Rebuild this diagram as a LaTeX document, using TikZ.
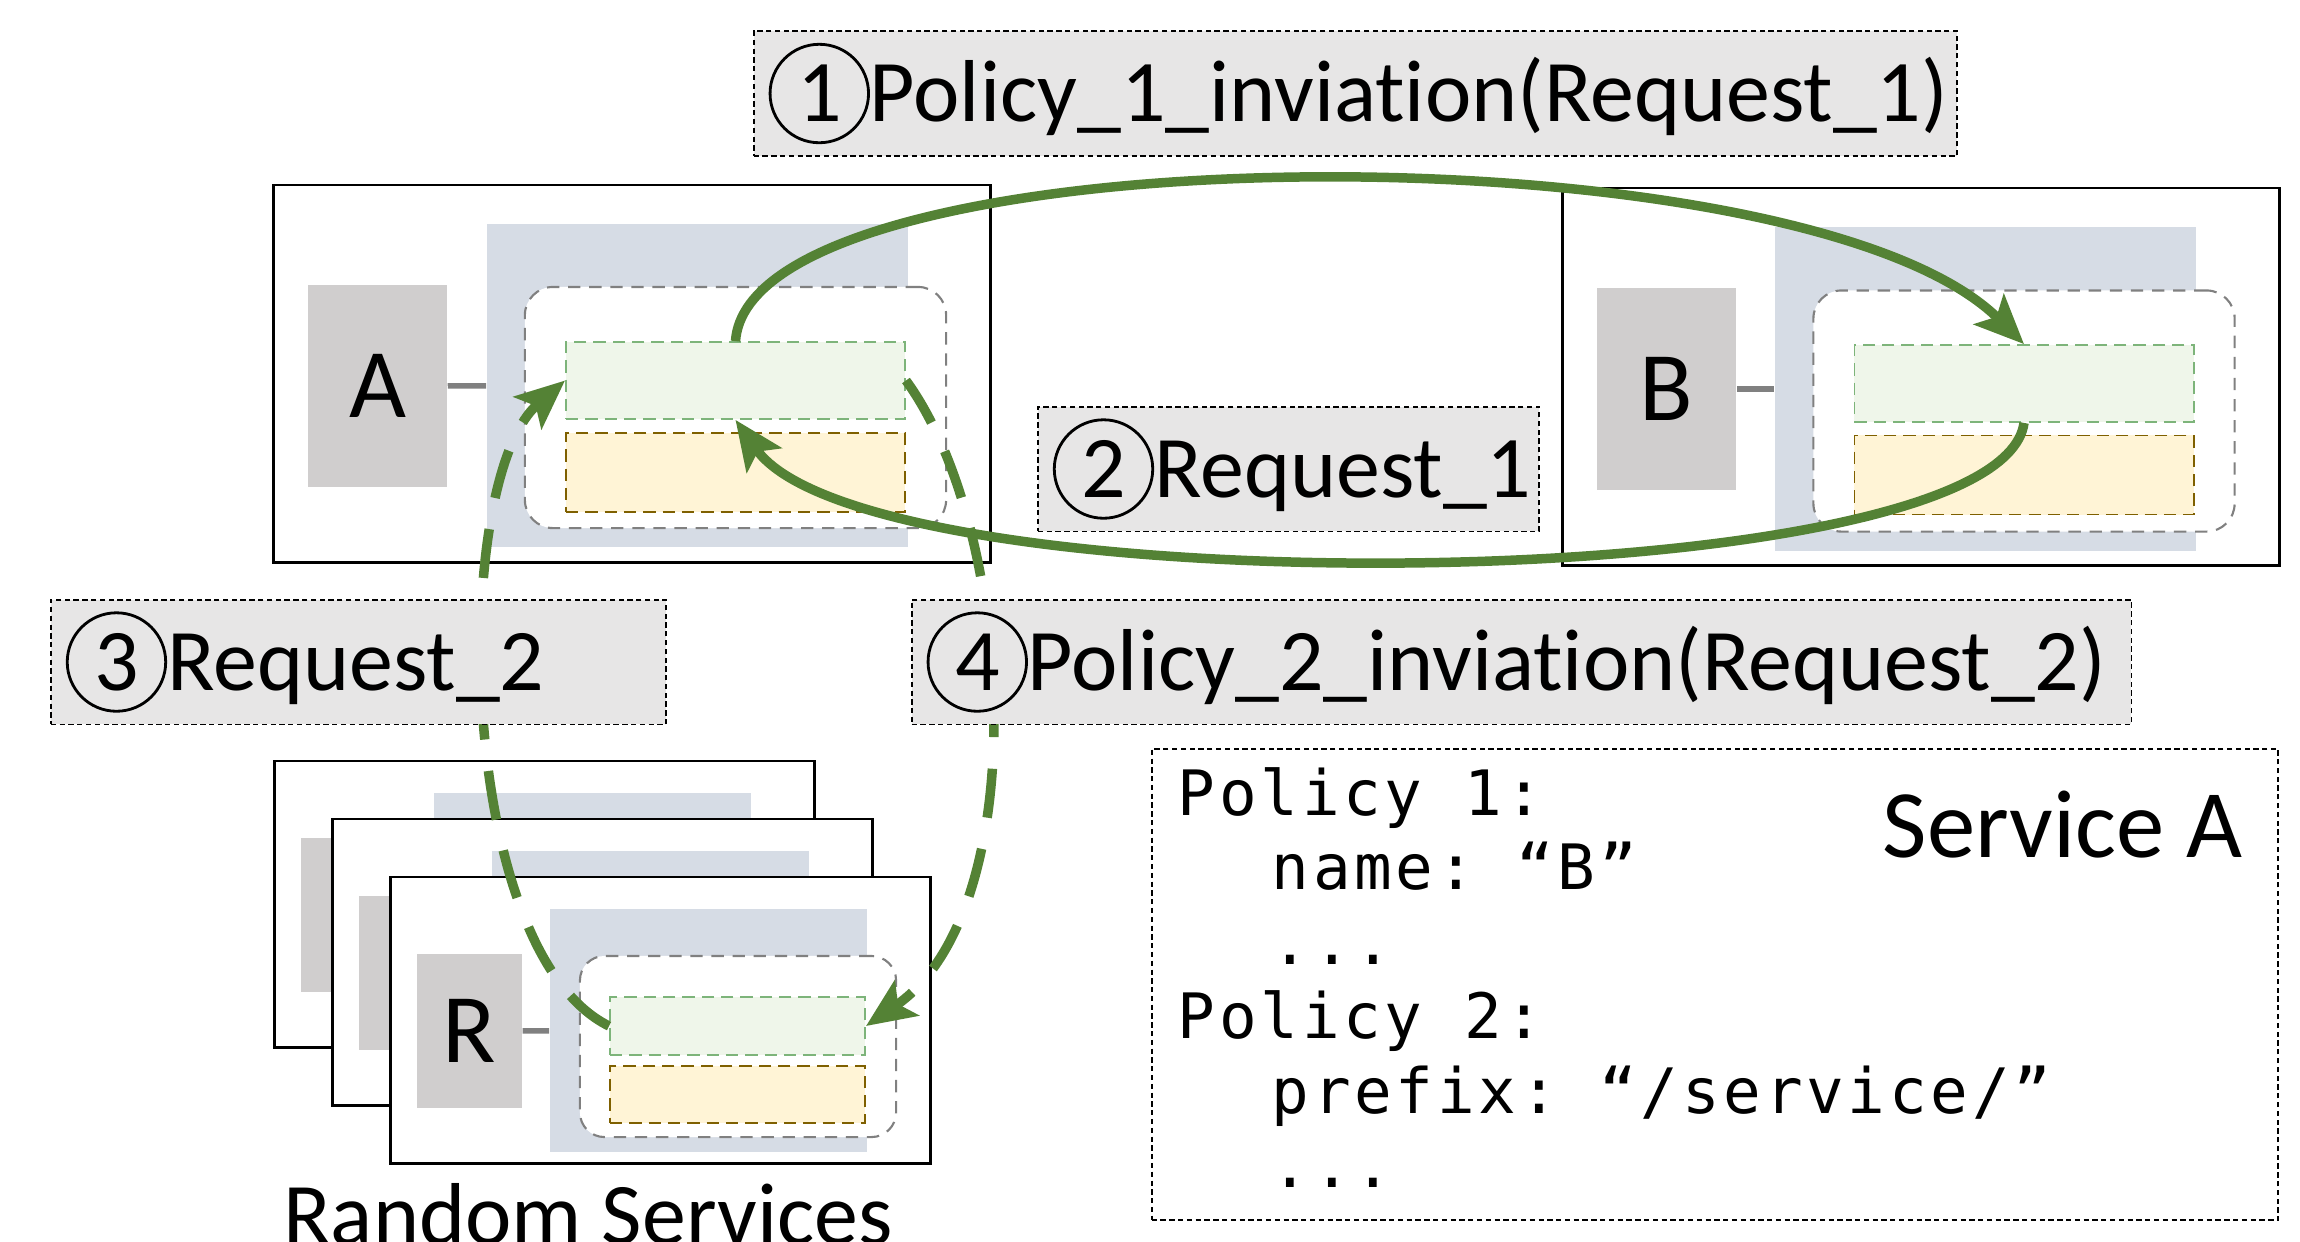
\documentclass[tikz,border=0pt]{standalone}
\usepackage{fontspec}
\setmainfont{Carlito}[Ligatures=NoCommon]
\setmonofont{DejaVu Sans Mono}[LetterSpace=6]
\usepackage{xcolor}
\usepackage{tikz}
\usetikzlibrary{arrows.meta}
\definecolor{flowgreen}{HTML}{548235}
\definecolor{panelblue}{HTML}{D6DCE5}
\definecolor{podgray}{HTML}{D0CECE}
\definecolor{tagfill}{HTML}{E7E6E6}
\definecolor{rulefill}{HTML}{EFF6EA}
\definecolor{ruleline}{HTML}{7DB47A}
\definecolor{storefill}{HTML}{FFF4D6}
\definecolor{storeline}{HTML}{7F6000}
\newcommand{\stepmark}[1]{\tikz[baseline=(m.base)]\node[circle,draw,solid,line width=0.8pt,inner sep=0pt,minimum size=28pt,text width={},align=center] (m) {#1};}
\newcommand{\msp}{\hspace{0.662em}}

\begin{document}
\begin{tikzpicture}[x=0.01cm,y=-0.01cm,
  svcbox/.style={draw,line width=0.8pt,fill=white,minimum width=71.6mm,minimum height=37.7mm},
  podbox/.style={fill=podgray,inner sep=0pt,minimum width=13.9mm,minimum height=20.2mm,font=\fontsize{28}{28}\selectfont},
  panel/.style={fill=panelblue,minimum width=42.1mm,minimum height=32.3mm},
  proxy/.style={draw=gray,fill=white,line width=0.6pt,dash pattern=on 3.5pt off 2.5pt,rounded corners=8pt,minimum width=42.1mm,minimum height=24.1mm},
  rulebox/.style={draw=ruleline,fill=rulefill,line width=0.5pt,dash pattern=on 3.5pt off 2pt,minimum width=33.9mm,minimum height=7.7mm},
  storebox/.style={draw=storeline,fill=storefill,line width=0.5pt,dash pattern=on 3.5pt off 2pt,minimum width=33.9mm,minimum height=7.9mm},
  link/.style={draw=gray,line width=1.6pt},
  flow/.style={draw=flowgreen,line width=2.7pt,-{Stealth[length=14pt,width=12pt,inset=3pt]}},
  flowdash/.style={flow,dash pattern=on 14pt off 9pt},
  tag/.style={draw,fill=tagfill,line width=0.5pt,dash pattern=on 1.5pt off 1pt,minimum height=12.2mm,inner xsep=1.5mm,align=left,font=\fontsize{25}{30}\selectfont},
  policybox/.style={draw,line width=0.5pt,dash pattern=on 1.5pt off 1pt,minimum width=112.6mm,minimum height=47.1mm}]
  \useasboundingbox (0,0) rectangle (2300,1241);
  \node[svcbox] (svcA) at (632,373.5) {};
  \node[podbox] (podA) at (377.5,386) {A};
  \node[panel] (panelA) at (697.5,385.5) {};
  \draw[link] (podA) -- (panelA);
  \node[proxy] (proxyA) at (735.5,407.5) {};
  \node[rulebox] (ruleA) at (735.5,380.5) {};
  \node[storebox] (storeA) at (735.5,472.5) {};
  \node[svcbox] (svcB) at (1921,376.5) {};
  \node[podbox] (podB) at (1666.5,389) {B};
  \node[panel] (panelB) at (1985.5,389) {};
  \draw[link] (podB) -- (panelB);
  \node[proxy] (proxyB) at (2024,411) {};
  \node[rulebox] (ruleB) at (2024,383.5) {};
  \node[storebox] (storeB) at (2024,475) {};
  \foreach \i/\d/\t in {1/116/{},2/58/{},3/0/R}{
    \begin{scope}[shift={(-\d,-\d)}]
      \node[svcbox,minimum width=53.9mm,minimum height=28.6mm] (r\i) at (660.5,1020) {};
      \node[podbox,minimum width=10.5mm,minimum height=15.4mm] (r\i-pod) at (469.5,1031) {\t};
      \node[panel,minimum width=31.7mm,minimum height=24.3mm] (r\i-panel) at (708.5,1030.5) {};
      \draw[link] (r\i-pod) -- (r\i-panel);
      \node[proxy,minimum width=31.6mm,minimum height=18.1mm,rounded corners=7pt] (r\i-proxy) at (738,1046.5) {};
      \node[rulebox,minimum width=25.5mm,minimum height=5.8mm] (r\i-rule) at (737.5,1026) {};
      \node[storebox,minimum width=25.5mm,minimum height=5.7mm] (r\i-store) at (737.5,1094.5) {};
    \end{scope}
  }
  \draw[flow] (ruleA.north) .. controls (750,130) and (1800,122) .. (ruleB.north);
  \draw[flow] (ruleB.south) .. controls (2000,600) and (870,610) .. (ruleA.south);
  \draw[flowdash] (r3-rule.west) .. controls (455,950) and (450,480) .. (ruleA.west);
  \draw[flowdash] (ruleA.east) .. controls (1015,530) and (1035,910) .. (r3-rule.east);
  \node[tag,text width=117.3mm] (call1) at (1355.5,93.5) {\stepmark{1}Policy\_1\_inviation(Request\_1)};
  \node[tag,text width=47.1mm] (call2) at (1288.5,469) {\stepmark{2}Request\_1};
  \node[tag,text width=58.5mm] (call3) at (358.5,662) {\stepmark{3}Request\_2};
  \node[tag,text width=118.9mm] (call4) at (1521.5,662) {\stepmark{4}Policy\_2\_inviation(Request\_2)};
  \node[policybox] (policies) at (1715,984.5) {};
  \node[anchor=base west,inner sep=0pt,text width=100mm,align=left,font=\ttfamily\fontsize{17.8}{21.2}\selectfont] (poltext) at (1177,815)
    {Policy\msp1:\\\hspace*{1.5em}name:\msp“B”\\\hspace*{1.5em}...\\Policy\msp2:\\\hspace*{1.5em}prefix:\msp“/service/”\\\hspace*{1.5em}...};
  \node[anchor=base west,inner sep=0pt,font=\fontsize{27.5}{30}\selectfont] (svcname) at (1882,857) {Service A};
  \node[anchor=base,inner sep=0pt,font=\fontsize{25}{30}\selectfont] (rndname) at (588,1244) {Random Services};
\end{tikzpicture}
\end{document}
